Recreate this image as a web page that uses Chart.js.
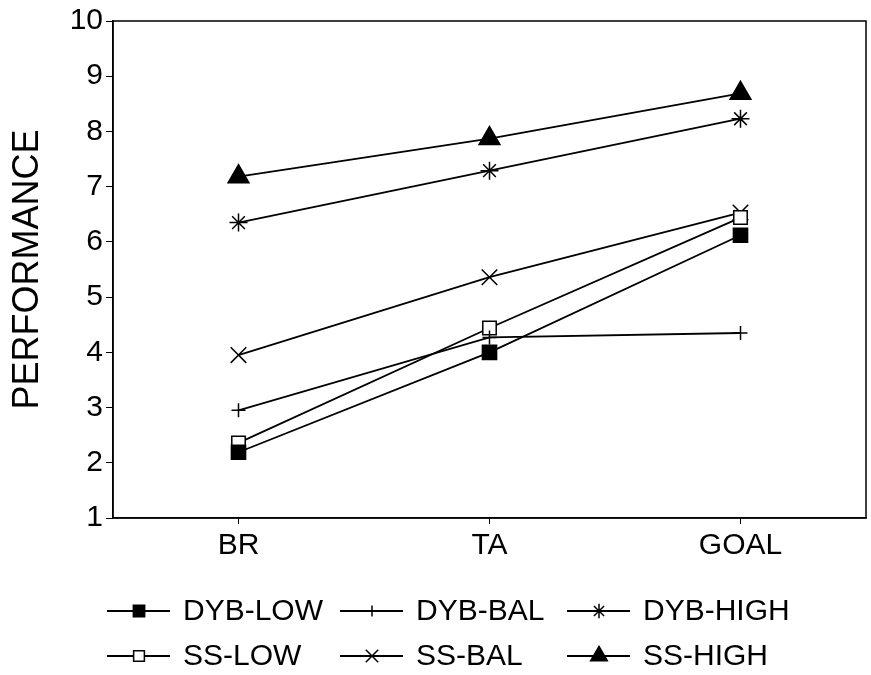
<!DOCTYPE html>
<html>
<head>
<meta charset="utf-8">
<script src="https://cdn.jsdelivr.net/npm/chart.js@4/dist/chart.umd.min.js"></script>
<style>
  html, body { margin: 0; padding: 0; background: #fff; }
  #wrap { width: 871px; height: 675px; }
</style>
</head>
<body>
<div id="wrap"><canvas id="chartCanvas" width="871" height="675"></canvas></div>
<script>
// --- Data ---
const categories = ['BR', 'TA', 'GOAL'];
const dybLow  = [2.19, 4.00, 6.12];
const dybBal  = [2.95, 4.27, 4.35];
const dybHigh = [6.35, 7.29, 8.23];
const ssLow   = [2.36, 4.44, 6.44];
const ssBal   = [3.95, 5.36, 6.53];
const ssHigh  = [7.18, 7.87, 8.69];
const yTicks  = [1, 2, 3, 4, 5, 6, 7, 8, 9, 10];

const FONT = "'Liberation Sans', Arial, Helvetica, sans-serif";

function series(label, data, style, radius, fill) {
    return {
        label: label,
        data: data,
        borderColor: '#000',
        borderWidth: 1.8,
        pointStyle: style,
        pointRadius: radius,
        pointBackgroundColor: fill,
        pointBorderColor: '#000',
        pointBorderWidth: 1.5,
        tension: 0,
        fill: false
    };
}

const datasets = [
    series('DYB-LOW', dybLow, 'rect', 10, '#000'),
    series('DYB-BAL', dybBal, 'cross', 7, '#000'),
    series('DYB-HIGH', dybHigh, 'star', 9, '#000'),
    series('SS-LOW', ssLow, 'rect', 9.5, '#fff'),
    series('SS-BAL', ssBal, 'crossRot', 11, '#000'),
    series('SS-HIGH', ssHigh, 'triangle', 12, '#000')
];

// frame round the plot area
const framePlugin = {
    id: 'frame',
    afterDatasetsDraw(chart) {
        const a = chart.chartArea;
        const c = chart.ctx;
        c.save();
        c.strokeStyle = '#000';
        c.lineWidth = 1.5;
        c.strokeRect(a.left, a.top, a.right - a.left, a.bottom - a.top);
        c.restore();
    }
};

// legend in a fixed 3-column grid, line + marker + text
const gridLegend = {
    id: 'gridLegend',
    afterDraw(chart) {
        const c = chart.ctx;
        const colX = [107, 340, 567];
        const rowY = [611, 656];
        c.save();
        chart.data.datasets.forEach((ds, i) => {
            const x0 = colX[i % 3];
            const y = rowY[Math.floor(i / 3)];
            c.strokeStyle = '#000';
            c.lineWidth = 1.8;
            c.beginPath();
            c.moveTo(x0, y);
            c.lineTo(x0 + 63, y);
            c.stroke();
            c.fillStyle = ds.pointBackgroundColor;
            c.strokeStyle = '#000';
            c.lineWidth = ds.pointBorderWidth;
            if (Chart.helpers && Chart.helpers.drawPoint) {
                Chart.helpers.drawPoint(c, {
                    pointStyle: ds.pointStyle,
                    rotation: 0,
                    radius: ds.pointRadius * 0.8,
                    borderWidth: ds.pointBorderWidth
                }, x0 + 32, y);
            }
            c.fillStyle = '#000';
            c.font = '30px ' + FONT;
            c.textBaseline = 'middle';
            c.textAlign = 'left';
            c.fillText(ds.label, x0 + 76, y + 1);
        });
        c.restore();
    }
};

const ctx = document.getElementById('chartCanvas').getContext('2d');
new Chart(ctx, {
    type: 'line',
    data: { labels: categories, datasets: datasets },
    options: {
        responsive: false,
        animation: false,
        layout: { autoPadding: false, padding: { top: 19, right: 5, bottom: 0, left: 0 } },
        plugins: {
            legend: { display: false },
            tooltip: { enabled: false }
        },
        scales: {
            x: {
                type: 'category',
                offset: true,
                afterFit(scale) {
                    scale.height = 157;
                    scale.paddingLeft = 0;
                    scale.paddingRight = 0;
                },
                grid: {
                    offset: false,
                    drawOnChartArea: false,
                    drawTicks: true,
                    tickLength: 6,
                    color: '#000',
                    lineWidth: 1
                },
                border: { display: true, color: '#000', width: 1.5 },
                ticks: {
                    color: '#000',
                    padding: 4,
                    font: { family: FONT, size: 30 }
                }
            },
            y: {
                min: yTicks[0],
                max: yTicks[yTicks.length - 1],
                afterFit(scale) { scale.width = 113; },
                afterBuildTicks(scale) { scale.ticks = yTicks.map(v => ({ value: v })); },
                grid: {
                    drawOnChartArea: false,
                    drawTicks: true,
                    tickLength: 7,
                    color: '#000',
                    lineWidth: 1
                },
                border: { display: true, color: '#000', width: 1.5 },
                ticks: {
                    color: '#000',
                    padding: 3,
                    font: { family: FONT, size: 30 }
                },
                title: {
                    display: true,
                    text: 'PERFORMANCE',
                    color: '#000',
                    padding: { top: 6, bottom: 0 },
                    font: { family: FONT, size: 36 }
                }
            }
        }
    },
    plugins: [framePlugin, gridLegend]
});
</script>
</body>
</html>
